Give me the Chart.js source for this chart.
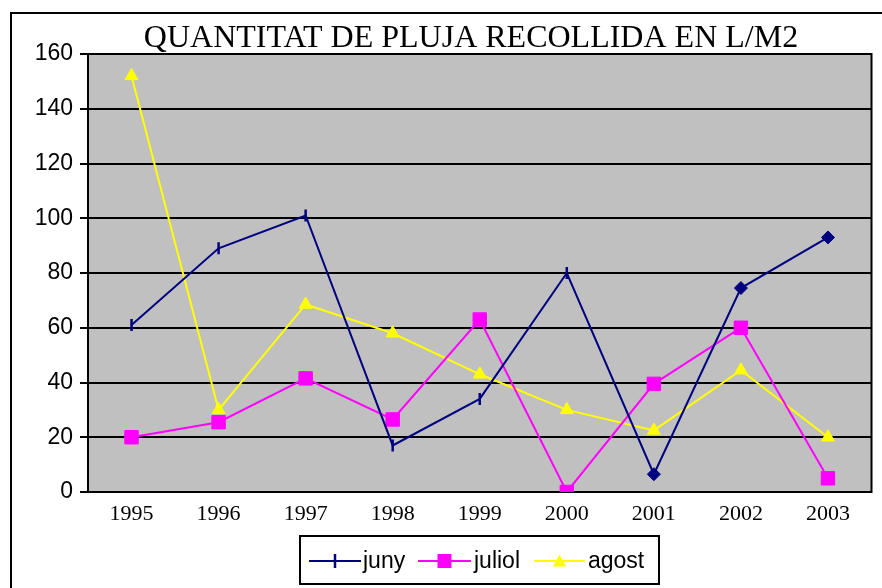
<!DOCTYPE html>
<html>
<head>
<meta charset="utf-8">
<script src="https://cdn.jsdelivr.net/npm/chart.js@4"></script>
<style>
  html, body { margin: 0; padding: 0; background: #fff; }
  #wrap { width: 882px; height: 588px; position: relative; }
</style>
</head>
<body>
<div id="wrap"><canvas id="c" width="882" height="588"></canvas></div>
<script>
const titleText = 'QUANTITAT DE PLUJA RECOLLIDA EN L/M2';
const years = ['1995','1996','1997','1998','1999','2000','2001','2002','2003'];
const juny   = [61, 89, 101, 17, 34, 80, 6.5, 74.5, 93];
const juliol = [20, 25.5, 41.5, 26.5, 63, 0, 39.5, 60, 5];
const agost  = [152, 30, 68.5, 58, 43, 30, 22.5, 44.5, 20];
const yTicks = [0, 20, 40, 60, 80, 100, 120, 140, 160];
const seriesNames = ['juny', 'juliol', 'agost'];

const NAVY = '#000080', MAG = '#FF00FF', YEL = '#FFFF00';
const SANS = '"Liberation Sans", Arial, sans-serif';
const SERIF = '"Liberation Serif", "Times New Roman", serif';

const junyStyles = juny.map((v, i) => i < 6 ? 'line' : 'rectRot');
const junyRot = juny.map((v, i) => i < 6 ? 90 : 0);
const junyRad = juny.map((v, i) => i < 6 ? 6 : 6.5);
const junyBW = juny.map((v, i) => i < 6 ? 2.5 : 1);

const decor = {
  id: 'decor',
  beforeDraw(chart) {
    const {ctx, chartArea: a} = chart;
    ctx.save();
    ctx.fillStyle = '#fff';
    ctx.fillRect(0, 0, chart.width, chart.height);
    ctx.strokeStyle = '#000';
    ctx.lineWidth = 2;
    ctx.beginPath();
    ctx.moveTo(11, chart.height + 5);
    ctx.lineTo(11, 13);
    ctx.lineTo(chart.width + 5, 13);
    ctx.stroke();
    ctx.fillStyle = '#C0C0C0';
    ctx.fillRect(a.left, a.top, a.right - a.left, a.bottom - a.top);
    ctx.restore();
  },
  beforeDatasetsDraw(chart) {
    const {ctx, chartArea: a} = chart;
    ctx.save();
    ctx.strokeStyle = '#000';
    ctx.lineWidth = 2;
    ctx.strokeRect(a.left, a.top, a.right - a.left, a.bottom - a.top);
    ctx.restore();
  },
  afterDraw(chart) {
    const {ctx} = chart;
    ctx.save();
    ctx.fillStyle = '#000';
    ctx.font = '32px ' + SERIF;
    ctx.textAlign = 'center';
    ctx.textBaseline = 'alphabetic';
    ctx.fillText(titleText, 471, 47);
    ctx.strokeStyle = '#000';
    ctx.lineWidth = 2;
    ctx.strokeRect(300, 536, 359, 48);
    const ly = 561;
    const items = [
      {x0: 309, x1: 361, tx: 363, color: NAVY, m: 'line'},
      {x0: 418, x1: 471, tx: 474, color: MAG, m: 'square'},
      {x0: 534, x1: 585, tx: 588, color: YEL, m: 'tri'}
    ];
    items.forEach((it, i) => {
      ctx.strokeStyle = it.color;
      ctx.lineWidth = 2;
      ctx.beginPath();
      ctx.moveTo(it.x0, ly); ctx.lineTo(it.x1, ly); ctx.stroke();
      const cx = (it.x0 + it.x1) / 2;
      ctx.fillStyle = it.color;
      if (it.m === 'line') {
        ctx.lineWidth = 2.5;
        ctx.beginPath(); ctx.moveTo(cx, ly - 7); ctx.lineTo(cx, ly + 7); ctx.stroke();
      } else if (it.m === 'square') {
        ctx.fillRect(cx - 7, ly - 7, 14, 14);
      } else {
        ctx.beginPath();
        ctx.moveTo(cx, ly - 6.5); ctx.lineTo(cx + 6.5, ly + 5.5); ctx.lineTo(cx - 6.5, ly + 5.5);
        ctx.closePath(); ctx.fill();
      }
      ctx.fillStyle = '#000';
      ctx.font = '23px ' + SANS;
      ctx.textAlign = 'left';
      ctx.textBaseline = 'middle';
      ctx.fillText(seriesNames[i], it.tx, ly + 1);
    });
    ctx.restore();
  }
};

new Chart(document.getElementById('c'), {
  type: 'line',
  data: {
    labels: years,
    datasets: [
      {
        label: seriesNames[0], data: juny, borderColor: NAVY, backgroundColor: NAVY,
        borderWidth: 2, pointStyle: junyStyles, rotation: junyRot, pointRadius: junyRad,
        pointBorderWidth: junyBW, pointBorderColor: NAVY, pointBackgroundColor: NAVY, tension: 0
      },
      {
        label: seriesNames[1], data: juliol, borderColor: MAG, backgroundColor: MAG,
        borderWidth: 2, pointStyle: 'rect', pointRadius: 9.5, pointBorderWidth: 1, tension: 0
      },
      {
        label: seriesNames[2], data: agost, borderColor: YEL, backgroundColor: YEL,
        borderWidth: 2, pointStyle: 'triangle', pointRadius: 7.5, pointBorderWidth: 1, tension: 0
      }
    ]
  },
  options: {
    responsive: false,
    animation: false,
    events: [],
    layout: { padding: { left: 0, right: 9, top: 54, bottom: 0 } },
    plugins: { legend: { display: false }, title: { display: false }, tooltip: { enabled: false } },
    scales: {
      x: {
        offset: true,
        grid: { display: false, drawTicks: false, offset: true },
        border: { display: true, color: '#000', width: 2 },
        ticks: { color: '#000', font: { family: SERIF, size: 22 }, padding: 9, maxRotation: 0 },
        afterFit(s) { s.height = 96; }
      },
      y: {
        min: 0, max: 160,
        afterBuildTicks(s) { s.ticks = yTicks.map(v => ({value: v})); },
        grid: { color: '#000', lineWidth: 2, tickLength: 8, drawTicks: true },
        border: { display: true, color: '#000', width: 2 },
        ticks: { color: '#000', font: { family: SANS, size: 23 }, padding: 7 },
        afterFit(s) { s.width = 88; }
      }
    }
  },
  plugins: [decor]
});
</script>
</body>
</html>
